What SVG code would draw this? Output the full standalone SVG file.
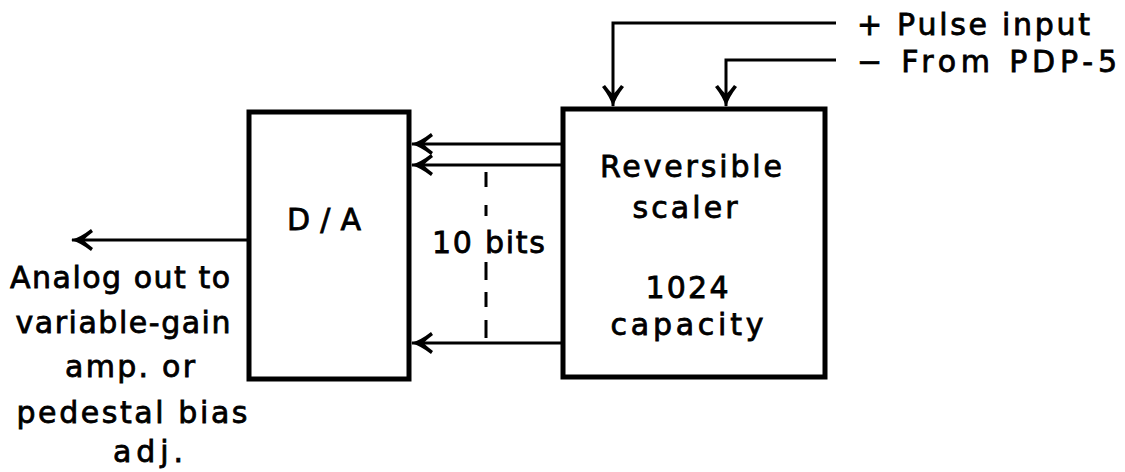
<svg xmlns="http://www.w3.org/2000/svg" width="1125" height="472" viewBox="0 0 1125 472">
<defs>
<style>
.box{fill:none;stroke:#000;stroke-width:5}
.ln{fill:none;stroke:#000;stroke-width:3}
.dash{fill:none;stroke:#000;stroke-width:3}
text{font-family:"DejaVu Sans","Liberation Sans",sans-serif;font-size:30px;fill:#000;stroke:#000;stroke-width:0.8}
.c{text-anchor:middle}
</style>
<marker id="ah" viewBox="0 0 24 24" refX="22" refY="12" markerWidth="24" markerHeight="24" markerUnits="userSpaceOnUse" orient="auto">
<path d="M3,1 Q13,9 23,12 Q13,15 3,23 L1,20 Q9,14 10,12 Q9,10 1,4 Z" fill="#000"/>
</marker>
</defs>
<rect width="1125" height="472" fill="#fff"/>
<g id="da">
<rect class="box" x="249" y="112" width="160" height="267"/>
<text class="c" x="324" y="230" textLength="74" lengthAdjust="spacing">D/A</text>
</g>
<g id="scaler">
<rect class="box" x="563" y="109" width="262" height="268"/>
<text class="c" x="691" y="177" textLength="182" lengthAdjust="spacing">Reversible</text>
<text class="c" x="685" y="218" textLength="105" lengthAdjust="spacing">scaler</text>
<text class="c" x="687" y="298" textLength="83" lengthAdjust="spacing">1024</text>
<text class="c" x="687" y="335" textLength="153" lengthAdjust="spacing">capacity</text>
</g>
<g id="bus-label">
<text x="432" y="253" textLength="113" lengthAdjust="spacing">10 bits</text>
</g>
<g id="pulse-label">
<text x="857" y="35" textLength="233" lengthAdjust="spacing">+ Pulse input</text>
</g>
<g id="pdp-label">
<text x="857" y="72" textLength="260" lengthAdjust="spacing">− From PDP-5</text>
</g>
<g id="out-label">
<text class="c" x="120" y="288" textLength="220" lengthAdjust="spacing">Analog out to</text>
<text class="c" x="123" y="333" textLength="215" lengthAdjust="spacing">variable-gain</text>
<text class="c" x="130" y="377" textLength="130" lengthAdjust="spacing">amp. or</text>
<text class="c" x="132" y="423" textLength="231" lengthAdjust="spacing">pedestal bias</text>
<text class="c" x="148" y="462" textLength="70" lengthAdjust="spacing">adj.</text>
</g>
<g id="connectors">
<polyline class="ln" points="836,23 613,23 613,106" marker-end="url(#ah)"/>
<polyline class="ln" points="836,60 726,60 726,106" marker-end="url(#ah)"/>
<line class="ln" x1="561" y1="144" x2="412" y2="144" marker-end="url(#ah)"/>
<line class="ln" x1="561" y1="165" x2="412" y2="165" marker-end="url(#ah)"/>
<line class="ln" x1="561" y1="343" x2="412" y2="343" marker-end="url(#ah)"/>
<path class="dash" d="M486,172V187M486,205V216M486,262V280M486,292V307M486,320V338"/>
<line class="ln" x1="247" y1="240" x2="72" y2="240" marker-end="url(#ah)"/>
</g>
</svg>
